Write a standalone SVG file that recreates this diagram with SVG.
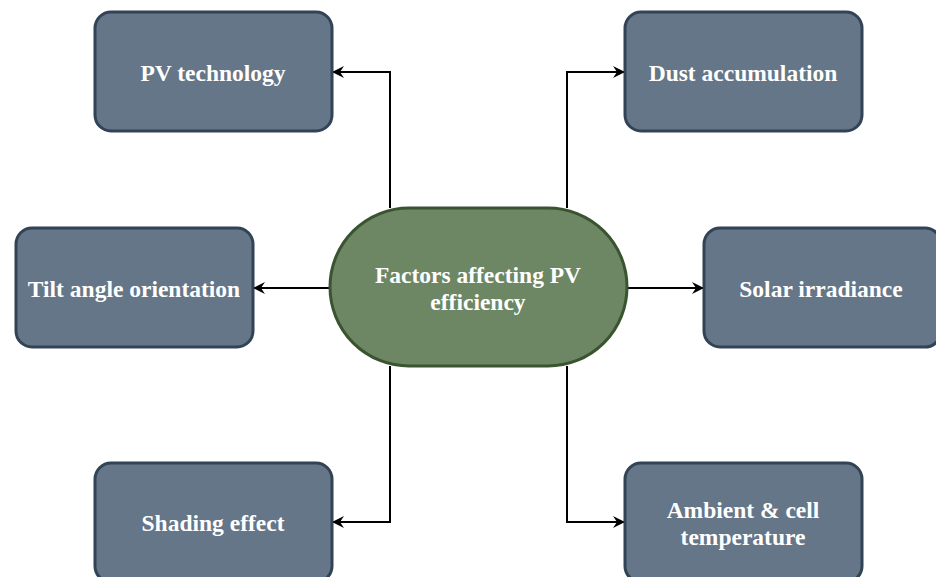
<svg xmlns="http://www.w3.org/2000/svg" width="936" height="577" viewBox="0 0 936 577">
<defs>
<style>
.box{fill:#647687;stroke:#314354;stroke-width:3}
.hub{fill:#6d8764;stroke:#3a5431;stroke-width:3}
.lbl{font-family:"Liberation Serif","Times New Roman",serif;font-weight:bold;font-size:23.5px;fill:#ffffff;text-anchor:middle}
.con{fill:none;stroke:#000;stroke-width:2}
</style>
<marker id="arr" viewBox="0 0 12 12" refX="11" refY="6" markerWidth="12" markerHeight="12" markerUnits="userSpaceOnUse" orient="auto">
<path d="M0,0 L12,6 L0,12 L4,6 Z" fill="#000"/>
</marker>
</defs>
<rect width="936" height="577" fill="#fff"/>
<g id="connectors">
<path class="con" d="M390,208 V72 H333" marker-end="url(#arr)"/>
<path class="con" d="M567,208 V72 H624" marker-end="url(#arr)"/>
<path class="con" d="M330,288 H254" marker-end="url(#arr)"/>
<path class="con" d="M627,288 H703" marker-end="url(#arr)"/>
<path class="con" d="M390,366 V522 H333" marker-end="url(#arr)"/>
<path class="con" d="M567,366 V522 H624" marker-end="url(#arr)"/>
</g>
<g id="hub">
<rect class="hub" x="330" y="208" width="297" height="158" rx="79" ry="79"/>
<text class="lbl" x="478" y="283">Factors affecting PV</text>
<text class="lbl" x="478" y="310">efficiency</text>
</g>
<g id="pv-technology">
<rect class="box" x="95" y="12" width="237" height="119" rx="16"/>
<text class="lbl" x="213" y="81">PV technology</text>
</g>
<g id="dust-accumulation">
<rect class="box" x="625" y="12" width="237" height="119" rx="16"/>
<text class="lbl" x="743" y="81">Dust accumulation</text>
</g>
<g id="tilt-angle">
<rect class="box" x="16" y="228" width="237" height="119" rx="16"/>
<text class="lbl" x="134" y="297">Tilt angle orientation</text>
</g>
<g id="solar-irradiance">
<rect class="box" x="704" y="228" width="237" height="119" rx="16"/>
<text class="lbl" x="821" y="297">Solar irradiance</text>
</g>
<g id="shading-effect">
<rect class="box" x="95" y="463" width="237" height="119" rx="16"/>
<text class="lbl" x="213" y="531">Shading effect</text>
</g>
<g id="ambient-temperature">
<rect class="box" x="625" y="463" width="237" height="119" rx="16"/>
<text class="lbl" x="743" y="518">Ambient &amp; cell</text>
<text class="lbl" x="743" y="545">temperature</text>
</g>
</svg>
